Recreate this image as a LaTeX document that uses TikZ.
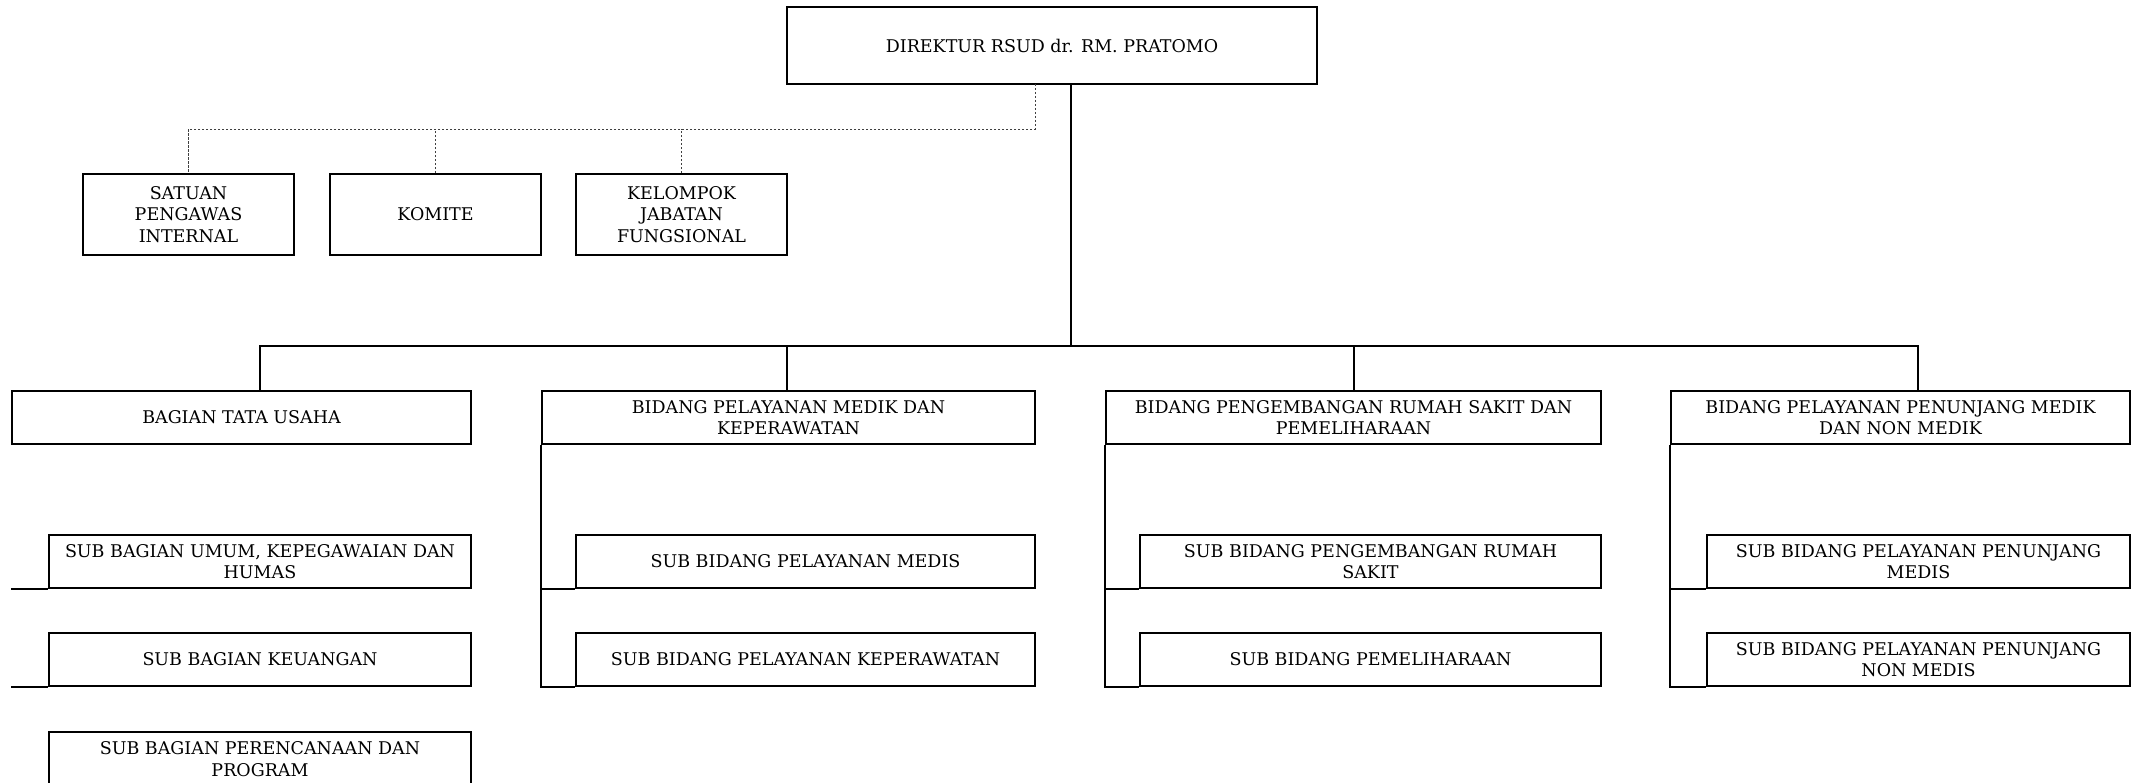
\documentclass[tikz,border=0pt]{standalone}
\usepackage{fontspec}
\setmainfont{DejaVu Serif}
\begin{document}
\begin{tikzpicture}[x=1pt,y=-1pt,
  box/.style={draw=black, line width=1.6pt, rectangle, inner sep=2pt, align=center,
    font=\fontsize{17.5}{21.5}\selectfont},
  solidline/.style={draw=black, line width=1.6pt},
  dashline/.style={draw=black!75, line width=0.9pt, dash pattern=on 2.5pt off 1.5pt}]
\useasboundingbox (0,0) rectangle (2136,783);
\fill[white] (0,0) rectangle (2136,783);

% director
\node[box, minimum width=530, minimum height=77] (dir) at (1052,45.5) {DIREKTUR RSUD dr. RM. PRATOMO};

% staff units (dashed line)
\node[box, minimum width=211, minimum height=81] (spi) at (188.5,214.5) {SATUAN\\PENGAWAS\\INTERNAL};
\node[box, minimum width=211, minimum height=81] (kom) at (435.5,214.5) {KOMITE};
\node[box, minimum width=211, minimum height=81] (kjf) at (681.5,214.5) {KELOMPOK\\JABATAN\\FUNGSIONAL};

% departments
\node[box, minimum width=459, minimum height=53] (tu) at (241.5,417.5) {BAGIAN TATA USAHA};
\node[box, minimum width=493, minimum height=53] (med) at (788.5,417.5) {BIDANG PELAYANAN MEDIK DAN\\KEPERAWATAN};
\node[box, minimum width=495, minimum height=53] (pen) at (1353.5,417.5) {BIDANG PENGEMBANGAN RUMAH SAKIT DAN\\PEMELIHARAAN};
\node[box, minimum width=459, minimum height=53] (pnj) at (1900.5,417.5) {BIDANG PELAYANAN PENUNJANG MEDIK\\DAN NON MEDIK};

% sub units
\node[box, minimum width=422, minimum height=53] (tu1) at (260,561.5) {SUB BAGIAN UMUM, KEPEGAWAIAN DAN\\HUMAS};
\node[box, minimum width=422, minimum height=53] (tu2) at (260,659.5) {SUB BAGIAN KEUANGAN};
\node[box, minimum width=422, minimum height=55, anchor=north] (tu3) at (260,731) {SUB BAGIAN PERENCANAAN DAN\\PROGRAM};

\node[box, minimum width=459, minimum height=53] (med1) at (805.5,561.5) {SUB BIDANG PELAYANAN MEDIS};
\node[box, minimum width=459, minimum height=53] (med2) at (805.5,659.5) {SUB BIDANG PELAYANAN KEPERAWATAN};

\node[box, minimum width=461, minimum height=53] (pen1) at (1370.5,561.5) {SUB BIDANG PENGEMBANGAN RUMAH\\SAKIT};
\node[box, minimum width=461, minimum height=53] (pen2) at (1370.5,659.5) {SUB BIDANG PEMELIHARAAN};

\node[box, minimum width=423, minimum height=53] (pnj1) at (1918.5,561.5) {SUB BIDANG PELAYANAN PENUNJANG\\MEDIS};
\node[box, minimum width=423, minimum height=53] (pnj2) at (1918.5,659.5) {SUB BIDANG PELAYANAN PENUNJANG\\NON MEDIS};

% dashed coordination lines
\coordinate (dtop) at (1035,84);
\coordinate (dbus) at (1035,129);
\draw[dashline] (dtop) -- (dbus) -- (dbus -| spi.north) -- (spi.north);
\draw[dashline] (kom.north) -- (kom.north |- dbus);
\draw[dashline] (kjf.north) -- (kjf.north |- dbus);

% command line
\coordinate (stem) at (1071,84);
\coordinate (busL) at (260,346);
\coordinate (busR) at (1918,346);
\coordinate (medDrop) at (787,346);
\coordinate (penDrop) at (1354,346);
\draw[solidline] (stem) -- (stem |- busL);
\draw[solidline, line cap=rect] (busL |- tu.north) -- (busL) -- (busR) -- (busR |- pnj.north);
\draw[solidline] (medDrop) -- (medDrop |- med.north);
\draw[solidline] (penDrop) -- (penDrop |- pen.north);

% links to sub units
\draw[solidline] (tu.west |- tu1.south) -- (tu1.south west);
\draw[solidline] (tu.west |- tu2.south) -- (tu2.south west);

\draw[solidline] (med.south west) -- (med.south west |- med2.south) -- (med2.south west);
\draw[solidline] (med.west |- med1.south) -- (med1.south west);

\draw[solidline] (pen.south west) -- (pen.south west |- pen2.south) -- (pen2.south west);
\draw[solidline] (pen.west |- pen1.south) -- (pen1.south west);

\draw[solidline] (pnj.south west) -- (pnj.south west |- pnj2.south) -- (pnj2.south west);
\draw[solidline] (pnj.west |- pnj1.south) -- (pnj1.south west);
\end{tikzpicture}
\end{document}
